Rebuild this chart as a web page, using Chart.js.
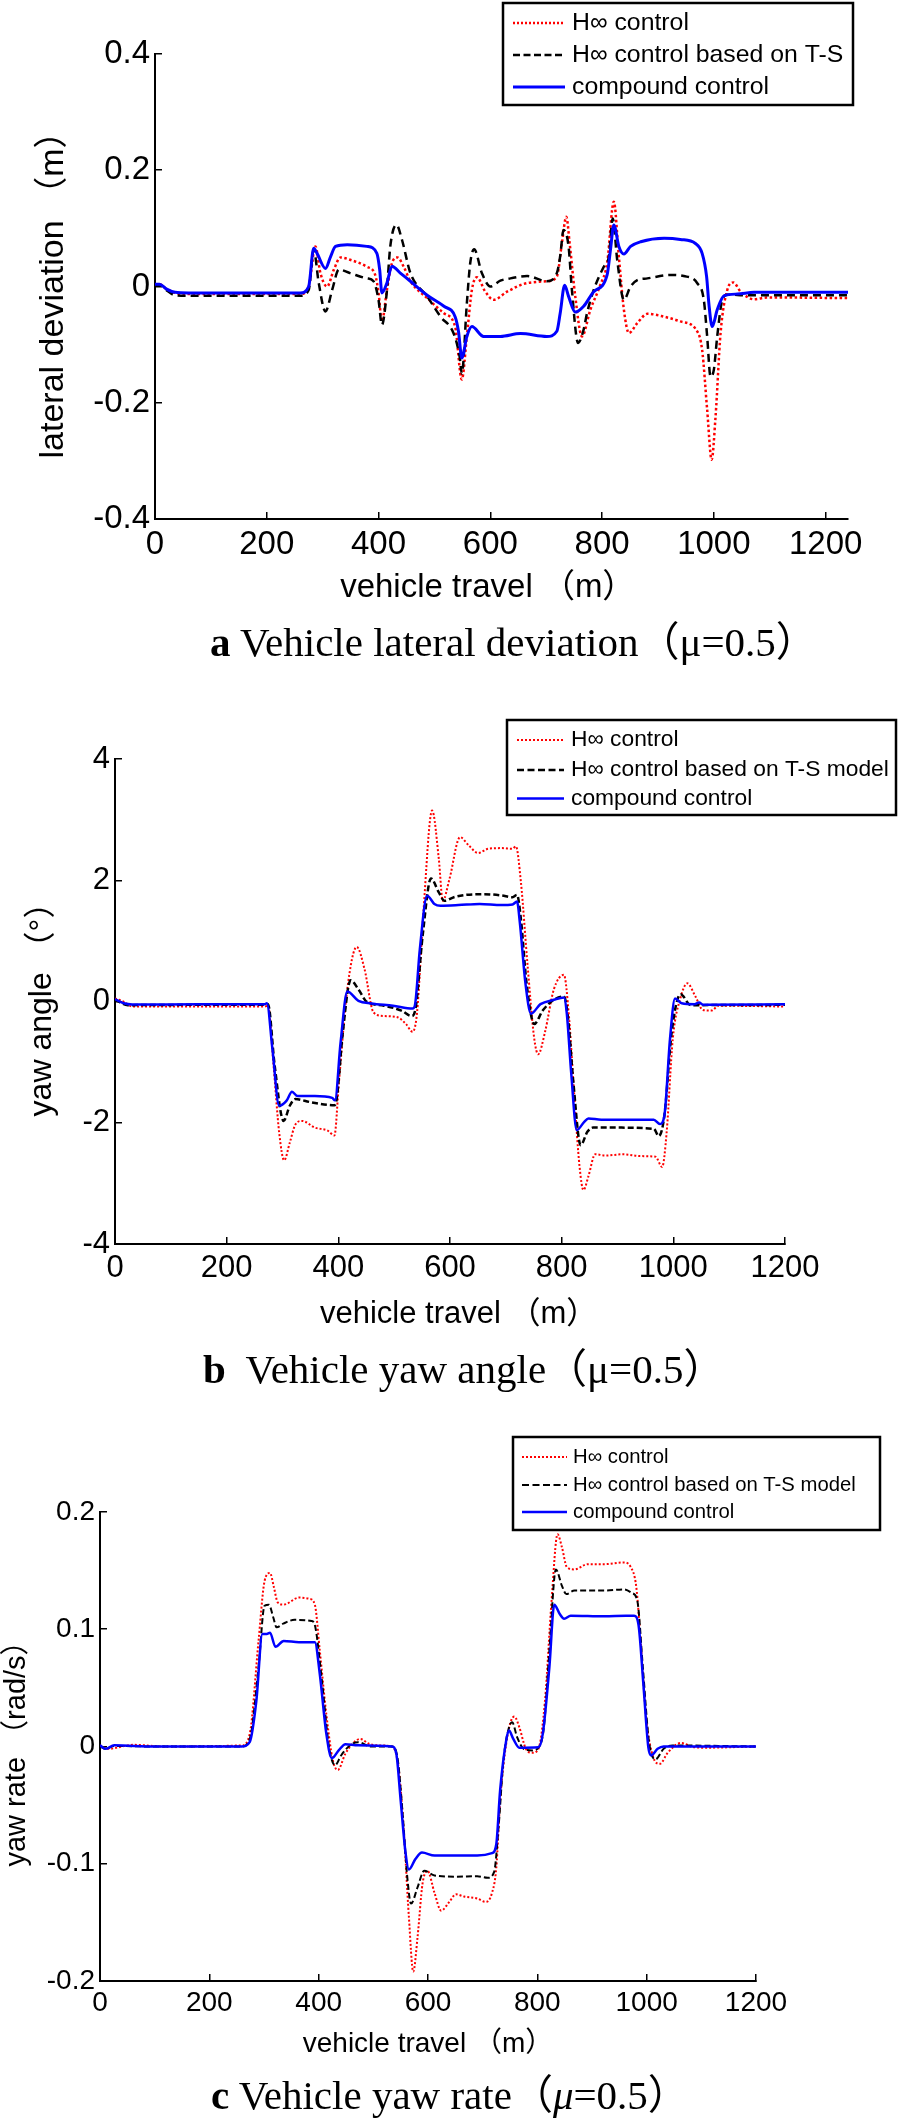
<!DOCTYPE html>
<html>
<head>
<meta charset="utf-8">
<script src="https://cdn.jsdelivr.net/npm/chart.js@4.4.1/dist/chart.umd.min.js"></script>
<style>
  html, body { margin: 0; padding: 0; background: #fff; }
  body { width: 898px; height: 2124px; position: relative; overflow: hidden; }
  canvas { position: absolute; left: 0; }
  .cap { position: absolute; font-family: "Liberation Serif", "Times New Roman", "Noto Sans CJK SC", serif;
         font-size: 41px; line-height: 41px; white-space: nowrap; color: #000; }
</style>
</head>
<body>
<canvas id="latChart" width="898" height="620" style="top:0px"></canvas>
<canvas id="yawChart" width="898" height="650" style="top:700px"></canvas>
<canvas id="rateChart" width="898" height="660" style="top:1420px"></canvas>
<div class="cap" style="left:210px;top:622px"><b>a</b> Vehicle lateral deviation（μ=0.5）</div>
<div class="cap" style="left:203px;top:1349px"><b>b</b>&nbsp; Vehicle yaw angle（μ=0.5）</div>
<div class="cap" style="left:211px;top:2075px"><b>c</b> Vehicle yaw rate（<i>μ</i>=0.5）</div>

<script>
// legend names
const namesA = ['H∞ control', 'H∞ control based on T-S', 'compound control'];
const namesBC = ['H∞ control', 'H∞ control based on T-S model', 'compound control'];

// tick values
const travelTicks = [0, 200, 400, 600, 800, 1000, 1200];
const latTicks = [-0.4, -0.2, 0, 0.2, 0.4];
const yawTicks = [-4, -2, 0, 2, 4];
const rateTicks = [-0.2, -0.1, 0, 0.1, 0.2];

// a - lateral deviation (m)
const latHinfX = [0, 8, 20, 36, 60, 150, 260, 275, 287, 296,
  308, 320, 332, 349, 379, 394, 400, 406, 415, 424,
  434, 445, 457, 487, 517, 537, 549, 558, 567, 576,
  591, 606, 630, 666, 701, 719, 728, 736, 742, 752,
  764, 779, 797, 809, 821, 830, 839, 848, 863, 881,
  911, 940, 970, 979, 988, 996, 1003, 1012, 1024, 1035,
  1048, 1072, 1095, 1119, 1240];
const latHinfY = [0.004, 0.004, -0.004, -0.011, -0.013, -0.013, -0.013, 0.000, 0.069, 0.023,
  0.000, 0.029, 0.050, 0.046, 0.034, 0.020, -0.011, -0.060, -0.006, 0.040,
  0.050, 0.034, 0.009, -0.020, -0.046, -0.069, -0.160, -0.086, -0.006, 0.016,
  -0.009, -0.023, -0.009, 0.006, 0.009, 0.017, 0.074, 0.120, 0.074, -0.017,
  -0.086, -0.040, 0.003, 0.040, 0.146, 0.051, -0.040, -0.080, -0.063, -0.047,
  -0.052, -0.060, -0.077, -0.109, -0.212, -0.298, -0.224, -0.080, -0.006, 0.007,
  -0.009, -0.022, -0.019, -0.019, -0.020];

const latTsX = [0, 8, 20, 36, 60, 150, 260, 275, 284, 293,
  305, 317, 329, 349, 379, 391, 400, 406, 414, 421,
  432, 442, 457, 487, 511, 534, 545, 549, 558, 564,
  571, 585, 600, 618, 636, 666, 701, 719, 725, 731,
  740, 746, 757, 767, 773, 785, 803, 812, 819, 827,
  839, 851, 863, 881, 923, 946, 970, 982, 988, 994,
  1000, 1006, 1015, 1024, 1060, 1240];
const latTsY = [0.003, 0.003, -0.006, -0.015, -0.016, -0.016, -0.016, -0.006, 0.063, 0.006,
  -0.043, -0.006, 0.029, 0.023, 0.014, 0.009, -0.023, -0.066, -0.017, 0.069,
  0.106, 0.080, 0.023, -0.017, -0.052, -0.080, -0.120, -0.150, -0.029, 0.040,
  0.064, 0.023, 0.000, 0.010, 0.014, 0.018, 0.009, 0.023, 0.052, 0.097,
  0.069, -0.006, -0.097, -0.074, -0.046, -0.006, 0.034, 0.051, 0.117, 0.046,
  -0.023, 0.000, 0.011, 0.014, 0.020, 0.018, 0.006, -0.023, -0.086, -0.155,
  -0.143, -0.086, -0.023, -0.014, -0.015, -0.015];

const latCompX = [0, 8, 20, 36, 60, 150, 260, 275, 284, 290,
  305, 314, 323, 344, 379, 397, 402, 406, 415, 424,
  439, 457, 487, 517, 537, 543, 549, 558, 567, 588,
  618, 654, 701, 719, 725, 733, 740, 752, 767, 785,
  809, 815, 821, 830, 839, 851, 869, 911, 940, 967,
  979, 987, 991, 997, 1006, 1018, 1042, 1072, 1240];
const latCompY = [0.004, 0.004, -0.004, -0.010, -0.011, -0.011, -0.011, 0.000, 0.066, 0.057,
  0.031, 0.051, 0.069, 0.072, 0.069, 0.057, 0.029, -0.011, 0.006, 0.035,
  0.023, 0.009, -0.015, -0.034, -0.052, -0.077, -0.123, -0.086, -0.069, -0.086,
  -0.086, -0.081, -0.086, -0.077, -0.046, 0.002, -0.017, -0.044, -0.034, -0.009,
  0.020, 0.063, 0.106, 0.069, 0.056, 0.069, 0.077, 0.083, 0.081, 0.074,
  0.057, 0.017, -0.029, -0.069, -0.040, -0.016, -0.013, -0.010, -0.010];

// b - yaw angle (deg)
const yawHinfX = [0, 16, 31, 150, 268, 274, 284, 294, 303, 313,
  323, 335, 358, 381, 393, 401, 416, 433, 447, 463,
  482, 506, 521, 533, 541, 552, 568, 580, 587, 599,
  618, 634, 650, 669, 692, 712, 718, 727, 739, 751,
  758, 770, 786, 804, 813, 823, 832, 839, 848, 860,
  879, 910, 941, 968, 980, 988, 999, 1013, 1025, 1039,
  1053, 1068, 1081, 1200];
const yawHinfY = [0.05, -0.006, -0.083, -0.083, -0.083, -0.07, -1.06, -2.16, -2.62, -2.33,
  -2.03, -1.97, -2.08, -2.13, -2.21, -1.34, 0.20, 0.90, 0.53, -0.18,
  -0.24, -0.26, -0.37, -0.50, -0.18, 1.42, 3.15, 2.35, 1.66, 2.02,
  2.71, 2.57, 2.45, 2.52, 2.53, 2.52, 2.56, 1.97, 0.59, -0.62,
  -0.87, -0.51, 0.20, 0.44, -0.24, -1.61, -2.72, -3.11, -2.88, -2.52,
  -2.54, -2.52, -2.55, -2.56, -2.73, -2.16, -0.62, 0.066, 0.30, 0.094,
  -0.14, -0.15, -0.07, -0.083];

const yawTsX = [0, 23, 150, 268, 274, 286, 302, 313, 323, 350,
  393, 397, 408, 422, 436, 451, 482, 513, 531, 538,
  551, 566, 580, 590, 607, 630, 661, 692, 712, 720,
  727, 737, 751, 766, 786, 804, 811, 821, 834, 846,
  856, 887, 965, 974, 984, 997, 1013, 1031, 1200];
const yawTsY = [0.028, -0.06, -0.055, -0.055, -0.044, -1.06, -1.97, -1.72, -1.61, -1.66,
  -1.71, -1.61, -0.51, 0.35, 0.20, -0.006, -0.07, -0.15, -0.24, -0.13,
  1.085, 2.03, 1.80, 1.66, 1.72, 1.76, 1.77, 1.75, 1.72, 1.76,
  1.36, 0.31, -0.37, -0.15, 0.028, 0.083, -0.24, -1.34, -2.37, -2.15,
  -2.08, -2.08, -2.10, -2.22, -1.88, -0.51, 0.12, -0.06, -0.055];

const yawCompX = [0, 16, 31, 150, 268, 272, 282, 294, 307, 317,
  327, 358, 389, 394, 404, 416, 436, 459, 498, 533,
  537, 546, 559, 572, 583, 615, 653, 692, 712, 720,
  725, 735, 745, 762, 786, 804, 809, 817, 827, 840,
  848, 871, 926, 965, 976, 984, 994, 1003, 1015, 1038,
  1046, 1054, 1200];
const yawCompY = [0.04, -0.03, -0.05, -0.045, -0.045, -0.03, -0.79, -1.72, -1.64, -1.49,
  -1.56, -1.56, -1.59, -1.63, -0.68, 0.165, 0.011, -0.033, -0.07, -0.116,
  -0.07, 0.865, 1.746, 1.61, 1.58, 1.59, 1.61, 1.59, 1.60, 1.65,
  1.31, 0.31, -0.2, -0.044, 0.028, 0.066, -0.18, -1.17, -2.12, -1.99,
  -1.93, -1.95, -1.95, -1.95, -2.02, -1.88, -0.62, 0.05, -0.03, -0.045,
  -0.017, -0.055, -0.045];

// c - yaw rate (rad/s)
const rateHinfX = [0, 14, 61, 120, 259, 274, 290, 301, 311, 318,
  325, 336, 364, 383, 393, 402, 414, 426, 435, 449,
  465, 476, 492, 511, 534, 546, 556, 565, 573, 581,
  590, 599, 612, 624, 639, 651, 666, 690, 705, 717,
  725, 732, 743, 752, 758, 767, 779, 791, 802, 814,
  826, 837, 845, 854, 868, 892, 923, 958, 971, 981,
  989, 999, 1012, 1024, 1039, 1063, 1086, 1109, 1200];
const rateHinfY = [0.001, -0.002, 0.0014, 0, 0.0009, 0.011, 0.090, 0.141, 0.148, 0.136,
  0.123, 0.121, 0.127, 0.126, 0.121, 0.082, 0.0275, -0.012, -0.020, -0.006,
  0.0037, 0.0065, 0.0023, 0.0009, 0, -0.0176, -0.074, -0.145, -0.192, -0.162,
  -0.117, -0.106, -0.125, -0.140, -0.1325, -0.126, -0.128, -0.1296, -0.1325, -0.125,
  -0.103, -0.046, 0.0023, 0.022, 0.0255, 0.0165, -0.002, -0.0054, -0.002, 0.039,
  0.124, 0.181, 0.170, 0.153, 0.151, 0.1555, 0.1555, 0.157, 0.153, 0.136,
  0.090, 0.025, -0.009, -0.0148, -0.005, 0.003, -0.0006, -0.001, 0];

const rateTsX = [0, 10, 26, 100, 259, 274, 290, 301, 309, 317,
  323, 336, 356, 387, 394, 406, 419, 430, 441, 457,
  472, 496, 534, 544, 554, 562, 569, 581, 593, 612,
  651, 690, 709, 721, 729, 738, 748, 754, 763, 775,
  791, 802, 812, 822, 834, 845, 853, 868, 923, 958,
  973, 983, 993, 1004, 1016, 1031, 1047, 1200];
const rateTsY = [0, -0.002, 0.0005, 0, 0, 0.0065, 0.0675, 0.120, 0.121, 0.110,
  0.1016, 0.105, 0.108, 0.107, 0.1016, 0.056, -0.0006, -0.016, -0.0077, 0.0009,
  0.0037, 0, 0, -0.009, -0.060, -0.111, -0.134, -0.12, -0.106, -0.11,
  -0.111, -0.1106, -0.112, -0.107, -0.069, -0.012, 0.016, 0.0207, 0.008, -0.002,
  -0.0034, -0.001, 0.0165, 0.0817, 0.151, 0.137, 0.130, 0.133, 0.133, 0.134,
  0.131, 0.124, 0.0675, 0.005, -0.011, -0.002, 0.0009, 0];

const rateCompX = [0, 10, 26, 100, 259, 274, 286, 297, 305, 311,
  321, 336, 364, 393, 402, 414, 424, 437, 449, 472,
  534, 542, 550, 559, 565, 577, 589, 612, 651, 690,
  717, 725, 732, 743, 748, 756, 767, 802, 810, 822,
  831, 841, 849, 861, 923, 962, 977, 985, 994, 1003,
  1008, 1020, 1031, 1200];
const rateCompY = [0.001, -0.002, 0.001, 0, 0, 0.004, 0.039, 0.096, 0.096, 0.097,
  0.085, 0.090, 0.089, 0.089, 0.062, 0.011, -0.010, -0.003, 0.002, 0.001,
  0, -0.006, -0.046, -0.091, -0.105, -0.096, -0.0905, -0.093, -0.093, -0.093,
  -0.091, -0.083, -0.037, 0.005, 0.0136, 0.0065, -0.001, -0.0006, 0.011, 0.0675,
  0.121, 0.113, 0.109, 0.1115, 0.111, 0.1115, 0.1115, 0.104, 0.053, -0.0006,
  -0.0077, -0.002, 0, 0];

const SANS = '"Liberation Sans", Arial, "Noto Sans CJK SC", sans-serif';

function pts(xs, ys) {
  return xs.map((x, i) => ({ x: x, y: ys[i] }));
}

// boxed legend, matlab style, drawn from the datasets themselves
const boxLegend = {
  id: 'boxLegend',
  afterDraw(chart, args, o) {
    const ctx = chart.ctx;
    ctx.save();
    ctx.fillStyle = '#fff';
    ctx.fillRect(o.x, o.y, o.w, o.h);
    ctx.lineWidth = 2.5;
    ctx.strokeStyle = '#000';
    ctx.strokeRect(o.x, o.y, o.w, o.h);
    ctx.font = o.size + 'px ' + SANS;
    ctx.textBaseline = 'middle';
    ctx.textAlign = 'left';
    chart.data.datasets.forEach((ds, i) => {
      const y = o.rows[i];
      ctx.beginPath();
      ctx.setLineDash(ds.legendDash || []);
      ctx.lineWidth = ds.borderWidth;
      ctx.strokeStyle = ds.borderColor;
      ctx.moveTo(o.lineX0, y);
      ctx.lineTo(o.lineX1, y);
      ctx.stroke();
      ctx.setLineDash([]);
      ctx.fillStyle = '#000';
      ctx.fillText(ds.label, o.textX, y);
    });
    ctx.restore();
  }
};

function datasets(names, red, black, blue, s) {
  return [
    { label: names[0], data: red, borderColor: '#ff0000', borderWidth: s.redW,
      borderDash: s.dot, legendDash: [2, 2], order: 3 },
    { label: names[1], data: black, borderColor: '#000000', borderWidth: s.blackW,
      borderDash: s.dash, legendDash: [7, 3.5], order: 2 },
    { label: names[2], data: blue, borderColor: '#0000ff', borderWidth: s.blueW,
      order: 1 }
  ];
}

function makeChart(id, p) {
  const ctx = document.getElementById(id).getContext('2d');
  return new Chart(ctx, {
    type: 'line',
    data: { datasets: p.datasets },
    options: {
      responsive: false,
      animation: false,
      devicePixelRatio: 1,
      events: [],
      layout: { padding: { left: 0, right: p.padRight, top: p.padTop, bottom: 0 } },
      elements: {
        point: { radius: 0 },
        line: { cubicInterpolationMode: 'monotone', fill: false }
      },
      plugins: {
        legend: { display: false },
        tooltip: { enabled: false },
        boxLegend: p.legend
      },
      scales: {
        x: {
          type: 'linear',
          min: 0,
          max: p.xMax,
          afterBuildTicks: s => { s.ticks = travelTicks.map(v => ({ value: v })); },
          afterFit: s => { s.height = p.xH; },
          grid: { drawOnChartArea: false, drawTicks: true, tickLength: -7, color: '#000', lineWidth: 1.5 },
          border: { display: true, color: '#000', width: 2 },
          ticks: { color: '#000', font: { family: SANS, size: p.tickSize }, padding: p.xTickPad,
                   maxRotation: 0, autoSkip: false, callback: v => String(v) },
          title: { display: true, text: p.xTitle, color: '#000',
                   font: { family: SANS, size: p.xTitleSize }, padding: { top: 0, bottom: p.xTitlePad } }
        },
        y: {
          min: p.yTicks[0],
          max: p.yTicks[p.yTicks.length - 1],
          afterBuildTicks: s => { s.ticks = p.yTicks.map(v => ({ value: v })); },
          afterFit: s => { s.width = p.yW; },
          grid: { drawOnChartArea: false, drawTicks: true, tickLength: -7, color: '#000', lineWidth: 1.5 },
          border: { display: true, color: '#000', width: 2 },
          ticks: { color: '#000', font: { family: SANS, size: p.tickSize }, padding: 12,
                   autoSkip: false, callback: v => String(v) },
          title: { display: true, text: p.yTitle, color: '#000',
                   font: { family: SANS, size: p.yTitleSize }, padding: { top: p.yTitlePad, bottom: 0 } }
        }
      }
    },
    plugins: [boxLegend]
  });
}

// a  (trailing spaces nudge the centred title a little left, as in the original)
makeChart('latChart', {
  datasets: datasets(namesA, pts(latHinfX, latHinfY), pts(latTsX, latTsY), pts(latCompX, latCompY),
    { redW: 2.5, blackW: 2.5, blueW: 3, dot: [2.5, 2.5], dash: [8, 5] }),
  padTop: 54, padRight: 50, yW: 155, xH: 101, xMax: 1240,
  yTicks: latTicks, yTitle: 'lateral deviation （m）', xTitle: 'vehicle travel （m）\u00a0\u00a0\u00a0',
  tickSize: 33, xTitleSize: 33, yTitleSize: 34, xTickPad: 13, xTitlePad: 12, yTitlePad: 33,
  legend: { x: 503, y: 3, w: 350, h: 102, rows: [23, 55, 87], lineX0: 513, lineX1: 565, textX: 572, size: 24.8 }
});

// b
makeChart('yawChart', {
  datasets: datasets(namesBC, pts(yawHinfX, yawHinfY), pts(yawTsX, yawTsY), pts(yawCompX, yawCompY),
    { redW: 2, blackW: 2.5, blueW: 2.5, dot: [2, 2], dash: [6, 3] }),
  padTop: 59, padRight: 113, yW: 115, xH: 106, xMax: 1200,
  yTicks: yawTicks, yTitle: 'yaw angle （°）', xTitle: '\u00a0\u00a0vehicle travel （m）',
  tickSize: 31, xTitleSize: 31, yTitleSize: 32, xTickPad: 13, xTitlePad: 17, yTitlePad: 23,
  legend: { x: 507, y: 20, w: 389, h: 95, rows: [40, 70, 98.5], lineX0: 517, lineX1: 564, textX: 571, size: 22.8 }
});

// c
makeChart('rateChart', {
  datasets: datasets(namesBC, pts(rateHinfX, rateHinfY), pts(rateTsX, rateTsY), pts(rateCompX, rateCompY),
    { redW: 2, blackW: 2, blueW: 2.5, dot: [2, 2], dash: [6, 3] }),
  padTop: 92, padRight: 142, yW: 100, xH: 99, xMax: 1200,
  yTicks: rateTicks, yTitle: 'yaw rate （rad/s）', xTitle: 'vehicle travel （m）',
  tickSize: 28, xTitleSize: 28, yTitleSize: 29, xTickPad: 12, xTitlePad: 19, yTitlePad: 0,
  legend: { x: 513, y: 17, w: 367, h: 93, rows: [37, 65, 92], lineX0: 522, lineX1: 567, textX: 573, size: 20.3 }
});
</script>
</body>
</html>
